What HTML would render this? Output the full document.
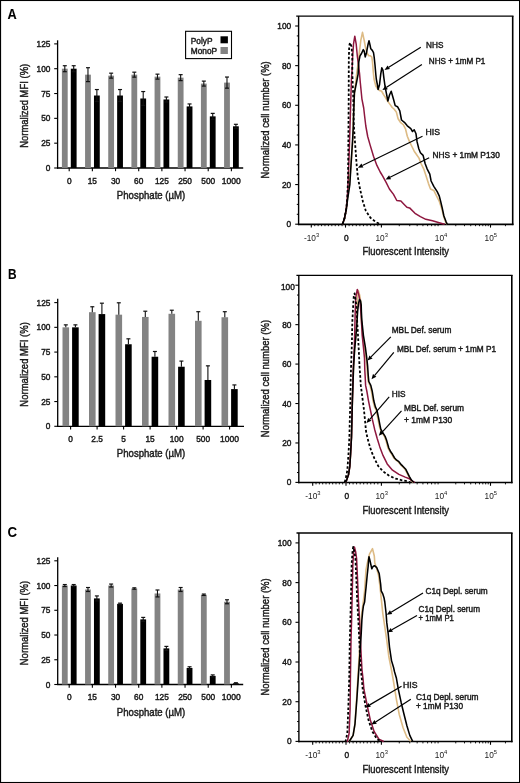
<!DOCTYPE html>
<html><head><meta charset="utf-8"><style>
html,body{margin:0;padding:0;background:#fff;}
svg{display:block;will-change:transform;}
text{font-family:"Liberation Sans", sans-serif;}
</style></head><body>
<svg width="520" height="783" viewBox="0 0 520 783" font-family='"Liberation Sans", sans-serif'>
<rect x="0.00" y="0.00" width="520.00" height="783.00" fill="#ffffff"/>
<rect x="0.55" y="0.5" width="519.0" height="782.0" fill="none" stroke="#000" stroke-width="1.1"/>
<text x="7.60" y="18.70" font-size="14.2" text-anchor="start" fill="#000" stroke="#000" stroke-width="0.1" font-weight="bold" textLength="9.2" lengthAdjust="spacingAndGlyphs" >A</text>
<text x="8.00" y="279.40" font-size="14" text-anchor="start" fill="#000" stroke="#000" stroke-width="0.1" font-weight="bold" textLength="8.6" lengthAdjust="spacingAndGlyphs" >B</text>
<text x="7.50" y="537.20" font-size="14.8" text-anchor="start" fill="#000" stroke="#000" stroke-width="0.0" font-weight="bold" textLength="9.6" lengthAdjust="spacingAndGlyphs" >C</text>
<line x1="57.60" y1="40.30" x2="57.60" y2="168.60" stroke="#000" stroke-width="1.3"/>
<line x1="57.00" y1="168.00" x2="243.20" y2="168.00" stroke="#000" stroke-width="1.3"/>
<line x1="54.20" y1="168.00" x2="57.60" y2="168.00" stroke="#000" stroke-width="1.1"/>
<text x="50.40" y="171.00" font-size="8.3" text-anchor="end" fill="#1a1a1a" stroke="#1a1a1a" stroke-width="0.42" >0</text>
<line x1="54.20" y1="143.18" x2="57.60" y2="143.18" stroke="#000" stroke-width="1.1"/>
<text x="50.40" y="146.18" font-size="8.3" text-anchor="end" fill="#1a1a1a" stroke="#1a1a1a" stroke-width="0.42" >25</text>
<line x1="54.20" y1="118.35" x2="57.60" y2="118.35" stroke="#000" stroke-width="1.1"/>
<text x="50.40" y="121.35" font-size="8.3" text-anchor="end" fill="#1a1a1a" stroke="#1a1a1a" stroke-width="0.42" >50</text>
<line x1="54.20" y1="93.53" x2="57.60" y2="93.53" stroke="#000" stroke-width="1.1"/>
<text x="50.40" y="96.53" font-size="8.3" text-anchor="end" fill="#1a1a1a" stroke="#1a1a1a" stroke-width="0.42" >75</text>
<line x1="54.20" y1="68.70" x2="57.60" y2="68.70" stroke="#000" stroke-width="1.1"/>
<text x="50.40" y="71.70" font-size="8.3" text-anchor="end" fill="#1a1a1a" stroke="#1a1a1a" stroke-width="0.42" >100</text>
<line x1="54.20" y1="43.88" x2="57.60" y2="43.88" stroke="#000" stroke-width="1.1"/>
<text x="50.40" y="46.88" font-size="8.3" text-anchor="end" fill="#1a1a1a" stroke="#1a1a1a" stroke-width="0.42" >125</text>
<rect x="61.90" y="68.70" width="5.80" height="99.30" fill="#838383"/>
<rect x="70.80" y="68.70" width="5.80" height="99.30" fill="#000000"/>
<line x1="64.80" y1="65.72" x2="64.80" y2="71.68" stroke="#111" stroke-width="1.1"/>
<line x1="62.80" y1="65.72" x2="66.80" y2="65.72" stroke="#111" stroke-width="1.2"/>
<line x1="62.80" y1="71.68" x2="66.80" y2="71.68" stroke="#111" stroke-width="1.2"/>
<line x1="73.70" y1="65.72" x2="73.70" y2="71.68" stroke="#111" stroke-width="1.1"/>
<line x1="71.70" y1="65.72" x2="75.70" y2="65.72" stroke="#111" stroke-width="1.2"/>
<line x1="71.70" y1="71.68" x2="75.70" y2="71.68" stroke="#111" stroke-width="1.2"/>
<line x1="69.20" y1="168.00" x2="69.20" y2="171.20" stroke="#000" stroke-width="1.1"/>
<text x="69.20" y="183.50" font-size="8.3" text-anchor="middle" fill="#1a1a1a" stroke="#1a1a1a" stroke-width="0.42" >0</text>
<rect x="85.07" y="74.66" width="5.80" height="93.34" fill="#838383"/>
<rect x="93.97" y="95.51" width="5.80" height="72.49" fill="#000000"/>
<line x1="87.97" y1="67.71" x2="87.97" y2="81.61" stroke="#111" stroke-width="1.1"/>
<line x1="85.97" y1="67.71" x2="89.97" y2="67.71" stroke="#111" stroke-width="1.2"/>
<line x1="85.97" y1="81.61" x2="89.97" y2="81.61" stroke="#111" stroke-width="1.2"/>
<line x1="96.87" y1="89.55" x2="96.87" y2="101.47" stroke="#111" stroke-width="1.1"/>
<line x1="94.87" y1="89.55" x2="98.87" y2="89.55" stroke="#111" stroke-width="1.2"/>
<line x1="94.87" y1="101.47" x2="98.87" y2="101.47" stroke="#111" stroke-width="1.2"/>
<line x1="92.37" y1="168.00" x2="92.37" y2="171.20" stroke="#000" stroke-width="1.1"/>
<text x="92.37" y="183.50" font-size="8.3" text-anchor="middle" fill="#1a1a1a" stroke="#1a1a1a" stroke-width="0.42" >15</text>
<rect x="108.24" y="75.65" width="5.80" height="92.35" fill="#838383"/>
<rect x="117.14" y="95.51" width="5.80" height="72.49" fill="#000000"/>
<line x1="111.14" y1="73.17" x2="111.14" y2="78.13" stroke="#111" stroke-width="1.1"/>
<line x1="109.14" y1="73.17" x2="113.14" y2="73.17" stroke="#111" stroke-width="1.2"/>
<line x1="109.14" y1="78.13" x2="113.14" y2="78.13" stroke="#111" stroke-width="1.2"/>
<line x1="120.04" y1="89.55" x2="120.04" y2="101.47" stroke="#111" stroke-width="1.1"/>
<line x1="118.04" y1="89.55" x2="122.04" y2="89.55" stroke="#111" stroke-width="1.2"/>
<line x1="118.04" y1="101.47" x2="122.04" y2="101.47" stroke="#111" stroke-width="1.2"/>
<line x1="115.54" y1="168.00" x2="115.54" y2="171.20" stroke="#000" stroke-width="1.1"/>
<text x="115.54" y="183.50" font-size="8.3" text-anchor="middle" fill="#1a1a1a" stroke="#1a1a1a" stroke-width="0.42" >30</text>
<rect x="131.41" y="74.66" width="5.80" height="93.34" fill="#838383"/>
<rect x="140.31" y="98.49" width="5.80" height="69.51" fill="#000000"/>
<line x1="134.31" y1="72.18" x2="134.31" y2="77.14" stroke="#111" stroke-width="1.1"/>
<line x1="132.31" y1="72.18" x2="136.31" y2="72.18" stroke="#111" stroke-width="1.2"/>
<line x1="132.31" y1="77.14" x2="136.31" y2="77.14" stroke="#111" stroke-width="1.2"/>
<line x1="143.21" y1="91.54" x2="143.21" y2="105.44" stroke="#111" stroke-width="1.1"/>
<line x1="141.21" y1="91.54" x2="145.21" y2="91.54" stroke="#111" stroke-width="1.2"/>
<line x1="141.21" y1="105.44" x2="145.21" y2="105.44" stroke="#111" stroke-width="1.2"/>
<line x1="138.71" y1="168.00" x2="138.71" y2="171.20" stroke="#000" stroke-width="1.1"/>
<text x="138.71" y="183.50" font-size="8.3" text-anchor="middle" fill="#1a1a1a" stroke="#1a1a1a" stroke-width="0.42" >60</text>
<rect x="154.58" y="76.64" width="5.80" height="91.36" fill="#838383"/>
<rect x="163.48" y="99.48" width="5.80" height="68.52" fill="#000000"/>
<line x1="157.48" y1="74.16" x2="157.48" y2="79.13" stroke="#111" stroke-width="1.1"/>
<line x1="155.48" y1="74.16" x2="159.48" y2="74.16" stroke="#111" stroke-width="1.2"/>
<line x1="155.48" y1="79.13" x2="159.48" y2="79.13" stroke="#111" stroke-width="1.2"/>
<line x1="166.38" y1="97.00" x2="166.38" y2="101.97" stroke="#111" stroke-width="1.1"/>
<line x1="164.38" y1="97.00" x2="168.38" y2="97.00" stroke="#111" stroke-width="1.2"/>
<line x1="164.38" y1="101.97" x2="168.38" y2="101.97" stroke="#111" stroke-width="1.2"/>
<line x1="161.88" y1="168.00" x2="161.88" y2="171.20" stroke="#000" stroke-width="1.1"/>
<text x="161.88" y="183.50" font-size="8.3" text-anchor="middle" fill="#1a1a1a" stroke="#1a1a1a" stroke-width="0.42" >125</text>
<rect x="177.75" y="77.64" width="5.80" height="90.36" fill="#838383"/>
<rect x="186.65" y="106.43" width="5.80" height="61.57" fill="#000000"/>
<line x1="180.65" y1="74.66" x2="180.65" y2="80.62" stroke="#111" stroke-width="1.1"/>
<line x1="178.65" y1="74.66" x2="182.65" y2="74.66" stroke="#111" stroke-width="1.2"/>
<line x1="178.65" y1="80.62" x2="182.65" y2="80.62" stroke="#111" stroke-width="1.2"/>
<line x1="189.55" y1="103.95" x2="189.55" y2="108.92" stroke="#111" stroke-width="1.1"/>
<line x1="187.55" y1="103.95" x2="191.55" y2="103.95" stroke="#111" stroke-width="1.2"/>
<line x1="187.55" y1="108.92" x2="191.55" y2="108.92" stroke="#111" stroke-width="1.2"/>
<line x1="185.05" y1="168.00" x2="185.05" y2="171.20" stroke="#000" stroke-width="1.1"/>
<text x="185.05" y="183.50" font-size="8.3" text-anchor="middle" fill="#1a1a1a" stroke="#1a1a1a" stroke-width="0.42" >250</text>
<rect x="200.92" y="83.59" width="5.80" height="84.41" fill="#838383"/>
<rect x="209.82" y="116.36" width="5.80" height="51.64" fill="#000000"/>
<line x1="203.82" y1="81.11" x2="203.82" y2="86.08" stroke="#111" stroke-width="1.1"/>
<line x1="201.82" y1="81.11" x2="205.82" y2="81.11" stroke="#111" stroke-width="1.2"/>
<line x1="201.82" y1="86.08" x2="205.82" y2="86.08" stroke="#111" stroke-width="1.2"/>
<line x1="212.72" y1="113.38" x2="212.72" y2="119.34" stroke="#111" stroke-width="1.1"/>
<line x1="210.72" y1="113.38" x2="214.72" y2="113.38" stroke="#111" stroke-width="1.2"/>
<line x1="210.72" y1="119.34" x2="214.72" y2="119.34" stroke="#111" stroke-width="1.2"/>
<line x1="208.22" y1="168.00" x2="208.22" y2="171.20" stroke="#000" stroke-width="1.1"/>
<text x="208.22" y="183.50" font-size="8.3" text-anchor="middle" fill="#1a1a1a" stroke="#1a1a1a" stroke-width="0.42" >500</text>
<rect x="224.09" y="82.60" width="5.80" height="85.40" fill="#838383"/>
<rect x="232.99" y="126.29" width="5.80" height="41.71" fill="#000000"/>
<line x1="226.99" y1="77.04" x2="226.99" y2="88.16" stroke="#111" stroke-width="1.1"/>
<line x1="224.99" y1="77.04" x2="228.99" y2="77.04" stroke="#111" stroke-width="1.2"/>
<line x1="224.99" y1="88.16" x2="228.99" y2="88.16" stroke="#111" stroke-width="1.2"/>
<line x1="235.89" y1="124.31" x2="235.89" y2="128.28" stroke="#111" stroke-width="1.1"/>
<line x1="233.89" y1="124.31" x2="237.89" y2="124.31" stroke="#111" stroke-width="1.2"/>
<line x1="233.89" y1="128.28" x2="237.89" y2="128.28" stroke="#111" stroke-width="1.2"/>
<line x1="231.39" y1="168.00" x2="231.39" y2="171.20" stroke="#000" stroke-width="1.1"/>
<text x="231.39" y="183.50" font-size="8.3" text-anchor="middle" fill="#1a1a1a" stroke="#1a1a1a" stroke-width="0.42" textLength="19.0" lengthAdjust="spacingAndGlyphs" >1000</text>
<text x="27.70" y="105.80" font-size="10.2" text-anchor="middle" fill="#1a1a1a" stroke="#1a1a1a" stroke-width="0.42" textLength="84.0" lengthAdjust="spacingAndGlyphs" transform="rotate(-90 27.70 105.80)" >Normalized MFI (%)</text>
<text x="151.00" y="198.80" font-size="10.2" text-anchor="middle" fill="#1a1a1a" stroke="#1a1a1a" stroke-width="0.42" textLength="68.3" lengthAdjust="spacingAndGlyphs" >Phosphate (µM)</text>
<rect x="185.6" y="31.3" width="45.9" height="27.3" fill="#fff" stroke="#000" stroke-width="1.1"/>
<text x="190.80" y="43.80" font-size="8.3" text-anchor="start" fill="#1a1a1a" stroke="#1a1a1a" stroke-width="0.42" >PolyP</text>
<text x="190.80" y="53.60" font-size="8.3" text-anchor="start" fill="#1a1a1a" stroke="#1a1a1a" stroke-width="0.42" >MonoP</text>
<rect x="220.50" y="36.30" width="7.40" height="7.00" fill="#000000"/>
<rect x="220.50" y="47.00" width="7.40" height="7.00" fill="#838383"/>
<line x1="57.70" y1="298.80" x2="57.70" y2="426.90" stroke="#000" stroke-width="1.3"/>
<line x1="57.10" y1="426.30" x2="244.00" y2="426.30" stroke="#000" stroke-width="1.3"/>
<line x1="54.30" y1="426.30" x2="57.70" y2="426.30" stroke="#000" stroke-width="1.1"/>
<text x="50.40" y="429.30" font-size="8.3" text-anchor="end" fill="#1a1a1a" stroke="#1a1a1a" stroke-width="0.42" >0</text>
<line x1="54.30" y1="401.56" x2="57.70" y2="401.56" stroke="#000" stroke-width="1.1"/>
<text x="50.40" y="404.56" font-size="8.3" text-anchor="end" fill="#1a1a1a" stroke="#1a1a1a" stroke-width="0.42" >25</text>
<line x1="54.30" y1="376.82" x2="57.70" y2="376.82" stroke="#000" stroke-width="1.1"/>
<text x="50.40" y="379.82" font-size="8.3" text-anchor="end" fill="#1a1a1a" stroke="#1a1a1a" stroke-width="0.42" >50</text>
<line x1="54.30" y1="352.08" x2="57.70" y2="352.08" stroke="#000" stroke-width="1.1"/>
<text x="50.40" y="355.08" font-size="8.3" text-anchor="end" fill="#1a1a1a" stroke="#1a1a1a" stroke-width="0.42" >75</text>
<line x1="54.30" y1="327.34" x2="57.70" y2="327.34" stroke="#000" stroke-width="1.1"/>
<text x="50.40" y="330.34" font-size="8.3" text-anchor="end" fill="#1a1a1a" stroke="#1a1a1a" stroke-width="0.42" >100</text>
<line x1="54.30" y1="302.60" x2="57.70" y2="302.60" stroke="#000" stroke-width="1.1"/>
<text x="50.40" y="305.60" font-size="8.3" text-anchor="end" fill="#1a1a1a" stroke="#1a1a1a" stroke-width="0.42" >125</text>
<rect x="62.50" y="327.34" width="6.60" height="98.96" fill="#838383"/>
<rect x="72.10" y="327.34" width="6.60" height="98.96" fill="#000000"/>
<line x1="65.80" y1="324.87" x2="65.80" y2="327.34" stroke="#111" stroke-width="1.1"/>
<line x1="63.80" y1="324.87" x2="67.80" y2="324.87" stroke="#111" stroke-width="1.2"/>
<line x1="75.40" y1="324.87" x2="75.40" y2="327.34" stroke="#111" stroke-width="1.1"/>
<line x1="73.40" y1="324.87" x2="77.40" y2="324.87" stroke="#111" stroke-width="1.2"/>
<line x1="70.60" y1="426.30" x2="70.60" y2="429.50" stroke="#000" stroke-width="1.1"/>
<text x="70.60" y="441.80" font-size="8.3" text-anchor="middle" fill="#1a1a1a" stroke="#1a1a1a" stroke-width="0.42" >0</text>
<rect x="89.00" y="312.20" width="6.60" height="114.10" fill="#838383"/>
<rect x="98.60" y="314.08" width="6.60" height="112.22" fill="#000000"/>
<line x1="92.30" y1="306.76" x2="92.30" y2="312.20" stroke="#111" stroke-width="1.1"/>
<line x1="90.30" y1="306.76" x2="94.30" y2="306.76" stroke="#111" stroke-width="1.2"/>
<line x1="101.90" y1="303.19" x2="101.90" y2="314.08" stroke="#111" stroke-width="1.1"/>
<line x1="99.90" y1="303.19" x2="103.90" y2="303.19" stroke="#111" stroke-width="1.2"/>
<line x1="97.10" y1="426.30" x2="97.10" y2="429.50" stroke="#000" stroke-width="1.1"/>
<text x="97.10" y="441.80" font-size="8.3" text-anchor="middle" fill="#1a1a1a" stroke="#1a1a1a" stroke-width="0.42" >2.5</text>
<rect x="115.50" y="314.67" width="6.60" height="111.63" fill="#838383"/>
<rect x="125.10" y="344.26" width="6.60" height="82.04" fill="#000000"/>
<line x1="118.80" y1="302.80" x2="118.80" y2="314.67" stroke="#111" stroke-width="1.1"/>
<line x1="116.80" y1="302.80" x2="120.80" y2="302.80" stroke="#111" stroke-width="1.2"/>
<line x1="128.40" y1="338.82" x2="128.40" y2="344.26" stroke="#111" stroke-width="1.1"/>
<line x1="126.40" y1="338.82" x2="130.40" y2="338.82" stroke="#111" stroke-width="1.2"/>
<line x1="123.60" y1="426.30" x2="123.60" y2="429.50" stroke="#000" stroke-width="1.1"/>
<text x="123.60" y="441.80" font-size="8.3" text-anchor="middle" fill="#1a1a1a" stroke="#1a1a1a" stroke-width="0.42" >5</text>
<rect x="142.00" y="316.95" width="6.60" height="109.35" fill="#838383"/>
<rect x="151.60" y="356.73" width="6.60" height="69.57" fill="#000000"/>
<line x1="145.30" y1="311.21" x2="145.30" y2="316.95" stroke="#111" stroke-width="1.1"/>
<line x1="143.30" y1="311.21" x2="147.30" y2="311.21" stroke="#111" stroke-width="1.2"/>
<line x1="154.90" y1="351.49" x2="154.90" y2="356.73" stroke="#111" stroke-width="1.1"/>
<line x1="152.90" y1="351.49" x2="156.90" y2="351.49" stroke="#111" stroke-width="1.2"/>
<line x1="150.10" y1="426.30" x2="150.10" y2="429.50" stroke="#000" stroke-width="1.1"/>
<text x="150.10" y="441.80" font-size="8.3" text-anchor="middle" fill="#1a1a1a" stroke="#1a1a1a" stroke-width="0.42" >15</text>
<rect x="168.50" y="313.78" width="6.60" height="112.52" fill="#838383"/>
<rect x="178.10" y="366.73" width="6.60" height="59.57" fill="#000000"/>
<line x1="171.80" y1="310.22" x2="171.80" y2="313.78" stroke="#111" stroke-width="1.1"/>
<line x1="169.80" y1="310.22" x2="173.80" y2="310.22" stroke="#111" stroke-width="1.2"/>
<line x1="181.40" y1="361.09" x2="181.40" y2="366.73" stroke="#111" stroke-width="1.1"/>
<line x1="179.40" y1="361.09" x2="183.40" y2="361.09" stroke="#111" stroke-width="1.2"/>
<line x1="176.60" y1="426.30" x2="176.60" y2="429.50" stroke="#000" stroke-width="1.1"/>
<text x="176.60" y="441.80" font-size="8.3" text-anchor="middle" fill="#1a1a1a" stroke="#1a1a1a" stroke-width="0.42" >100</text>
<rect x="195.00" y="320.81" width="6.60" height="105.49" fill="#838383"/>
<rect x="204.60" y="379.99" width="6.60" height="46.31" fill="#000000"/>
<line x1="198.30" y1="311.70" x2="198.30" y2="320.81" stroke="#111" stroke-width="1.1"/>
<line x1="196.30" y1="311.70" x2="200.30" y2="311.70" stroke="#111" stroke-width="1.2"/>
<line x1="207.90" y1="365.84" x2="207.90" y2="379.99" stroke="#111" stroke-width="1.1"/>
<line x1="205.90" y1="365.84" x2="209.90" y2="365.84" stroke="#111" stroke-width="1.2"/>
<line x1="203.10" y1="426.30" x2="203.10" y2="429.50" stroke="#000" stroke-width="1.1"/>
<text x="203.10" y="441.80" font-size="8.3" text-anchor="middle" fill="#1a1a1a" stroke="#1a1a1a" stroke-width="0.42" >500</text>
<rect x="221.50" y="317.25" width="6.60" height="109.05" fill="#838383"/>
<rect x="231.10" y="389.09" width="6.60" height="37.21" fill="#000000"/>
<line x1="224.80" y1="311.70" x2="224.80" y2="317.25" stroke="#111" stroke-width="1.1"/>
<line x1="222.80" y1="311.70" x2="226.80" y2="311.70" stroke="#111" stroke-width="1.2"/>
<line x1="234.40" y1="384.93" x2="234.40" y2="389.09" stroke="#111" stroke-width="1.1"/>
<line x1="232.40" y1="384.93" x2="236.40" y2="384.93" stroke="#111" stroke-width="1.2"/>
<line x1="229.60" y1="426.30" x2="229.60" y2="429.50" stroke="#000" stroke-width="1.1"/>
<text x="229.60" y="441.80" font-size="8.3" text-anchor="middle" fill="#1a1a1a" stroke="#1a1a1a" stroke-width="0.42" textLength="19.0" lengthAdjust="spacingAndGlyphs" >1000</text>
<text x="27.70" y="364.40" font-size="10.2" text-anchor="middle" fill="#1a1a1a" stroke="#1a1a1a" stroke-width="0.42" textLength="84.5" lengthAdjust="spacingAndGlyphs" transform="rotate(-90 27.70 364.40)" >Normalized MFI (%)</text>
<text x="151.00" y="457.30" font-size="10.2" text-anchor="middle" fill="#1a1a1a" stroke="#1a1a1a" stroke-width="0.42" textLength="68.3" lengthAdjust="spacingAndGlyphs" >Phosphate (µM)</text>
<line x1="57.70" y1="557.30" x2="57.70" y2="685.10" stroke="#000" stroke-width="1.3"/>
<line x1="57.10" y1="684.50" x2="243.20" y2="684.50" stroke="#000" stroke-width="1.3"/>
<line x1="54.30" y1="684.50" x2="57.70" y2="684.50" stroke="#000" stroke-width="1.1"/>
<text x="50.40" y="687.50" font-size="8.3" text-anchor="end" fill="#1a1a1a" stroke="#1a1a1a" stroke-width="0.42" >0</text>
<line x1="54.30" y1="659.76" x2="57.70" y2="659.76" stroke="#000" stroke-width="1.1"/>
<text x="50.40" y="662.76" font-size="8.3" text-anchor="end" fill="#1a1a1a" stroke="#1a1a1a" stroke-width="0.42" >25</text>
<line x1="54.30" y1="635.02" x2="57.70" y2="635.02" stroke="#000" stroke-width="1.1"/>
<text x="50.40" y="638.02" font-size="8.3" text-anchor="end" fill="#1a1a1a" stroke="#1a1a1a" stroke-width="0.42" >50</text>
<line x1="54.30" y1="610.28" x2="57.70" y2="610.28" stroke="#000" stroke-width="1.1"/>
<text x="50.40" y="613.28" font-size="8.3" text-anchor="end" fill="#1a1a1a" stroke="#1a1a1a" stroke-width="0.42" >75</text>
<line x1="54.30" y1="585.54" x2="57.70" y2="585.54" stroke="#000" stroke-width="1.1"/>
<text x="50.40" y="588.54" font-size="8.3" text-anchor="end" fill="#1a1a1a" stroke="#1a1a1a" stroke-width="0.42" >100</text>
<line x1="54.30" y1="560.80" x2="57.70" y2="560.80" stroke="#000" stroke-width="1.1"/>
<text x="50.40" y="563.80" font-size="8.3" text-anchor="end" fill="#1a1a1a" stroke="#1a1a1a" stroke-width="0.42" >125</text>
<rect x="61.90" y="585.54" width="5.80" height="98.96" fill="#838383"/>
<rect x="70.80" y="585.54" width="5.80" height="98.96" fill="#000000"/>
<line x1="64.80" y1="584.55" x2="64.80" y2="586.53" stroke="#111" stroke-width="1.1"/>
<line x1="62.80" y1="584.55" x2="66.80" y2="584.55" stroke="#111" stroke-width="1.2"/>
<line x1="62.80" y1="586.53" x2="66.80" y2="586.53" stroke="#111" stroke-width="1.2"/>
<line x1="73.70" y1="584.55" x2="73.70" y2="586.53" stroke="#111" stroke-width="1.1"/>
<line x1="71.70" y1="584.55" x2="75.70" y2="584.55" stroke="#111" stroke-width="1.2"/>
<line x1="71.70" y1="586.53" x2="75.70" y2="586.53" stroke="#111" stroke-width="1.2"/>
<line x1="69.20" y1="684.50" x2="69.20" y2="687.70" stroke="#000" stroke-width="1.1"/>
<text x="69.20" y="700.00" font-size="8.3" text-anchor="middle" fill="#1a1a1a" stroke="#1a1a1a" stroke-width="0.42" >0</text>
<rect x="85.07" y="589.50" width="5.80" height="95.00" fill="#838383"/>
<rect x="93.97" y="598.40" width="5.80" height="86.10" fill="#000000"/>
<line x1="87.97" y1="587.52" x2="87.97" y2="591.48" stroke="#111" stroke-width="1.1"/>
<line x1="85.97" y1="587.52" x2="89.97" y2="587.52" stroke="#111" stroke-width="1.2"/>
<line x1="85.97" y1="591.48" x2="89.97" y2="591.48" stroke="#111" stroke-width="1.2"/>
<line x1="96.87" y1="595.93" x2="96.87" y2="600.88" stroke="#111" stroke-width="1.1"/>
<line x1="94.87" y1="595.93" x2="98.87" y2="595.93" stroke="#111" stroke-width="1.2"/>
<line x1="94.87" y1="600.88" x2="98.87" y2="600.88" stroke="#111" stroke-width="1.2"/>
<line x1="92.37" y1="684.50" x2="92.37" y2="687.70" stroke="#000" stroke-width="1.1"/>
<text x="92.37" y="700.00" font-size="8.3" text-anchor="middle" fill="#1a1a1a" stroke="#1a1a1a" stroke-width="0.42" >15</text>
<rect x="108.24" y="585.54" width="5.80" height="98.96" fill="#838383"/>
<rect x="117.14" y="603.85" width="5.80" height="80.65" fill="#000000"/>
<line x1="111.14" y1="584.06" x2="111.14" y2="587.02" stroke="#111" stroke-width="1.1"/>
<line x1="109.14" y1="584.06" x2="113.14" y2="584.06" stroke="#111" stroke-width="1.2"/>
<line x1="109.14" y1="587.02" x2="113.14" y2="587.02" stroke="#111" stroke-width="1.2"/>
<line x1="120.04" y1="603.15" x2="120.04" y2="604.54" stroke="#111" stroke-width="1.1"/>
<line x1="118.04" y1="603.15" x2="122.04" y2="603.15" stroke="#111" stroke-width="1.2"/>
<line x1="118.04" y1="604.54" x2="122.04" y2="604.54" stroke="#111" stroke-width="1.2"/>
<line x1="115.54" y1="684.50" x2="115.54" y2="687.70" stroke="#000" stroke-width="1.1"/>
<text x="115.54" y="700.00" font-size="8.3" text-anchor="middle" fill="#1a1a1a" stroke="#1a1a1a" stroke-width="0.42" >30</text>
<rect x="131.41" y="588.51" width="5.80" height="95.99" fill="#838383"/>
<rect x="140.31" y="619.38" width="5.80" height="65.12" fill="#000000"/>
<line x1="134.31" y1="587.82" x2="134.31" y2="589.20" stroke="#111" stroke-width="1.1"/>
<line x1="132.31" y1="587.82" x2="136.31" y2="587.82" stroke="#111" stroke-width="1.2"/>
<line x1="132.31" y1="589.20" x2="136.31" y2="589.20" stroke="#111" stroke-width="1.2"/>
<line x1="143.21" y1="617.41" x2="143.21" y2="621.36" stroke="#111" stroke-width="1.1"/>
<line x1="141.21" y1="617.41" x2="145.21" y2="617.41" stroke="#111" stroke-width="1.2"/>
<line x1="141.21" y1="621.36" x2="145.21" y2="621.36" stroke="#111" stroke-width="1.2"/>
<line x1="138.71" y1="684.50" x2="138.71" y2="687.70" stroke="#000" stroke-width="1.1"/>
<text x="138.71" y="700.00" font-size="8.3" text-anchor="middle" fill="#1a1a1a" stroke="#1a1a1a" stroke-width="0.42" >60</text>
<rect x="154.58" y="593.46" width="5.80" height="91.04" fill="#838383"/>
<rect x="163.48" y="648.38" width="5.80" height="36.12" fill="#000000"/>
<line x1="157.48" y1="589.99" x2="157.48" y2="596.92" stroke="#111" stroke-width="1.1"/>
<line x1="155.48" y1="589.99" x2="159.48" y2="589.99" stroke="#111" stroke-width="1.2"/>
<line x1="155.48" y1="596.92" x2="159.48" y2="596.92" stroke="#111" stroke-width="1.2"/>
<line x1="166.38" y1="646.40" x2="166.38" y2="650.36" stroke="#111" stroke-width="1.1"/>
<line x1="164.38" y1="646.40" x2="168.38" y2="646.40" stroke="#111" stroke-width="1.2"/>
<line x1="164.38" y1="650.36" x2="168.38" y2="650.36" stroke="#111" stroke-width="1.2"/>
<line x1="161.88" y1="684.50" x2="161.88" y2="687.70" stroke="#000" stroke-width="1.1"/>
<text x="161.88" y="700.00" font-size="8.3" text-anchor="middle" fill="#1a1a1a" stroke="#1a1a1a" stroke-width="0.42" >125</text>
<rect x="177.75" y="589.50" width="5.80" height="95.00" fill="#838383"/>
<rect x="186.65" y="667.97" width="5.80" height="16.53" fill="#000000"/>
<line x1="180.65" y1="587.52" x2="180.65" y2="591.48" stroke="#111" stroke-width="1.1"/>
<line x1="178.65" y1="587.52" x2="182.65" y2="587.52" stroke="#111" stroke-width="1.2"/>
<line x1="178.65" y1="591.48" x2="182.65" y2="591.48" stroke="#111" stroke-width="1.2"/>
<line x1="189.55" y1="666.79" x2="189.55" y2="669.16" stroke="#111" stroke-width="1.1"/>
<line x1="187.55" y1="666.79" x2="191.55" y2="666.79" stroke="#111" stroke-width="1.2"/>
<line x1="187.55" y1="669.16" x2="191.55" y2="669.16" stroke="#111" stroke-width="1.2"/>
<line x1="185.05" y1="684.50" x2="185.05" y2="687.70" stroke="#000" stroke-width="1.1"/>
<text x="185.05" y="700.00" font-size="8.3" text-anchor="middle" fill="#1a1a1a" stroke="#1a1a1a" stroke-width="0.42" >250</text>
<rect x="200.92" y="594.74" width="5.80" height="89.76" fill="#838383"/>
<rect x="209.82" y="675.89" width="5.80" height="8.61" fill="#000000"/>
<line x1="203.82" y1="594.05" x2="203.82" y2="595.44" stroke="#111" stroke-width="1.1"/>
<line x1="201.82" y1="594.05" x2="205.82" y2="594.05" stroke="#111" stroke-width="1.2"/>
<line x1="201.82" y1="595.44" x2="205.82" y2="595.44" stroke="#111" stroke-width="1.2"/>
<line x1="212.72" y1="674.90" x2="212.72" y2="676.88" stroke="#111" stroke-width="1.1"/>
<line x1="210.72" y1="674.90" x2="214.72" y2="674.90" stroke="#111" stroke-width="1.2"/>
<line x1="210.72" y1="676.88" x2="214.72" y2="676.88" stroke="#111" stroke-width="1.2"/>
<line x1="208.22" y1="684.50" x2="208.22" y2="687.70" stroke="#000" stroke-width="1.1"/>
<text x="208.22" y="700.00" font-size="8.3" text-anchor="middle" fill="#1a1a1a" stroke="#1a1a1a" stroke-width="0.42" >500</text>
<rect x="224.09" y="601.77" width="5.80" height="82.73" fill="#838383"/>
<rect x="232.99" y="683.31" width="5.80" height="1.19" fill="#000000"/>
<line x1="226.99" y1="599.79" x2="226.99" y2="603.75" stroke="#111" stroke-width="1.1"/>
<line x1="224.99" y1="599.79" x2="228.99" y2="599.79" stroke="#111" stroke-width="1.2"/>
<line x1="224.99" y1="603.75" x2="228.99" y2="603.75" stroke="#111" stroke-width="1.2"/>
<line x1="235.89" y1="682.72" x2="235.89" y2="683.91" stroke="#111" stroke-width="1.1"/>
<line x1="233.89" y1="682.72" x2="237.89" y2="682.72" stroke="#111" stroke-width="1.2"/>
<line x1="233.89" y1="683.91" x2="237.89" y2="683.91" stroke="#111" stroke-width="1.2"/>
<line x1="231.39" y1="684.50" x2="231.39" y2="687.70" stroke="#000" stroke-width="1.1"/>
<text x="231.39" y="700.00" font-size="8.3" text-anchor="middle" fill="#1a1a1a" stroke="#1a1a1a" stroke-width="0.42" textLength="19.0" lengthAdjust="spacingAndGlyphs" >1000</text>
<text x="27.70" y="623.00" font-size="10.2" text-anchor="middle" fill="#1a1a1a" stroke="#1a1a1a" stroke-width="0.42" textLength="84.5" lengthAdjust="spacingAndGlyphs" transform="rotate(-90 27.70 623.00)" >Normalized MFI (%)</text>
<text x="151.00" y="715.80" font-size="10.2" text-anchor="middle" fill="#1a1a1a" stroke="#1a1a1a" stroke-width="0.42" textLength="68.3" lengthAdjust="spacingAndGlyphs" >Phosphate (µM)</text>
<line x1="296.20" y1="16.10" x2="513.50" y2="16.10" stroke="#000" stroke-width="1.3"/>
<line x1="298.60" y1="16.10" x2="298.60" y2="225.10" stroke="#000" stroke-width="1.4"/>
<line x1="512.70" y1="16.10" x2="512.70" y2="225.10" stroke="#000" stroke-width="1.6"/>
<line x1="297.90" y1="224.30" x2="513.50" y2="224.30" stroke="#000" stroke-width="1.7"/>
<line x1="295.20" y1="224.20" x2="298.60" y2="224.20" stroke="#000" stroke-width="1.1"/>
<text x="291.20" y="227.20" font-size="8.3" text-anchor="end" fill="#1a1a1a" stroke="#1a1a1a" stroke-width="0.42" >0</text>
<line x1="296.80" y1="214.29" x2="298.60" y2="214.29" stroke="#000" stroke-width="1.0"/>
<line x1="296.80" y1="204.38" x2="298.60" y2="204.38" stroke="#000" stroke-width="1.0"/>
<line x1="296.80" y1="194.47" x2="298.60" y2="194.47" stroke="#000" stroke-width="1.0"/>
<line x1="295.20" y1="184.56" x2="298.60" y2="184.56" stroke="#000" stroke-width="1.1"/>
<text x="291.20" y="187.56" font-size="8.3" text-anchor="end" fill="#1a1a1a" stroke="#1a1a1a" stroke-width="0.42" >20</text>
<line x1="296.80" y1="174.65" x2="298.60" y2="174.65" stroke="#000" stroke-width="1.0"/>
<line x1="296.80" y1="164.74" x2="298.60" y2="164.74" stroke="#000" stroke-width="1.0"/>
<line x1="296.80" y1="154.83" x2="298.60" y2="154.83" stroke="#000" stroke-width="1.0"/>
<line x1="295.20" y1="144.92" x2="298.60" y2="144.92" stroke="#000" stroke-width="1.1"/>
<text x="291.20" y="147.92" font-size="8.3" text-anchor="end" fill="#1a1a1a" stroke="#1a1a1a" stroke-width="0.42" >40</text>
<line x1="296.80" y1="135.01" x2="298.60" y2="135.01" stroke="#000" stroke-width="1.0"/>
<line x1="296.80" y1="125.10" x2="298.60" y2="125.10" stroke="#000" stroke-width="1.0"/>
<line x1="296.80" y1="115.19" x2="298.60" y2="115.19" stroke="#000" stroke-width="1.0"/>
<line x1="295.20" y1="105.28" x2="298.60" y2="105.28" stroke="#000" stroke-width="1.1"/>
<text x="291.20" y="108.28" font-size="8.3" text-anchor="end" fill="#1a1a1a" stroke="#1a1a1a" stroke-width="0.42" >60</text>
<line x1="296.80" y1="95.37" x2="298.60" y2="95.37" stroke="#000" stroke-width="1.0"/>
<line x1="296.80" y1="85.46" x2="298.60" y2="85.46" stroke="#000" stroke-width="1.0"/>
<line x1="296.80" y1="75.55" x2="298.60" y2="75.55" stroke="#000" stroke-width="1.0"/>
<line x1="295.20" y1="65.64" x2="298.60" y2="65.64" stroke="#000" stroke-width="1.1"/>
<text x="291.20" y="68.64" font-size="8.3" text-anchor="end" fill="#1a1a1a" stroke="#1a1a1a" stroke-width="0.42" >80</text>
<line x1="296.80" y1="55.73" x2="298.60" y2="55.73" stroke="#000" stroke-width="1.0"/>
<line x1="296.80" y1="45.82" x2="298.60" y2="45.82" stroke="#000" stroke-width="1.0"/>
<line x1="296.80" y1="35.91" x2="298.60" y2="35.91" stroke="#000" stroke-width="1.0"/>
<line x1="295.20" y1="26.00" x2="298.60" y2="26.00" stroke="#000" stroke-width="1.1"/>
<text x="291.20" y="29.00" font-size="8.3" text-anchor="end" fill="#1a1a1a" stroke="#1a1a1a" stroke-width="0.42" >100</text>
<line x1="311.30" y1="224.20" x2="311.30" y2="227.60" stroke="#000" stroke-width="1.1"/>
<line x1="314.72" y1="224.20" x2="314.72" y2="226.20" stroke="#000" stroke-width="0.9"/>
<line x1="318.14" y1="224.20" x2="318.14" y2="226.20" stroke="#000" stroke-width="0.9"/>
<line x1="321.56" y1="224.20" x2="321.56" y2="226.20" stroke="#000" stroke-width="0.9"/>
<line x1="324.98" y1="224.20" x2="324.98" y2="226.20" stroke="#000" stroke-width="0.9"/>
<line x1="328.40" y1="224.20" x2="328.40" y2="226.20" stroke="#000" stroke-width="0.9"/>
<line x1="331.82" y1="224.20" x2="331.82" y2="226.20" stroke="#000" stroke-width="0.9"/>
<line x1="335.24" y1="224.20" x2="335.24" y2="226.20" stroke="#000" stroke-width="0.9"/>
<line x1="338.66" y1="224.20" x2="338.66" y2="226.20" stroke="#000" stroke-width="0.9"/>
<line x1="342.08" y1="224.20" x2="342.08" y2="226.20" stroke="#000" stroke-width="0.9"/>
<line x1="345.50" y1="224.20" x2="345.50" y2="227.60" stroke="#000" stroke-width="1.1"/>
<line x1="349.09" y1="224.20" x2="349.09" y2="226.20" stroke="#000" stroke-width="0.9"/>
<line x1="352.68" y1="224.20" x2="352.68" y2="226.20" stroke="#000" stroke-width="0.9"/>
<line x1="356.27" y1="224.20" x2="356.27" y2="226.20" stroke="#000" stroke-width="0.9"/>
<line x1="359.86" y1="224.20" x2="359.86" y2="226.20" stroke="#000" stroke-width="0.9"/>
<line x1="363.45" y1="224.20" x2="363.45" y2="226.20" stroke="#000" stroke-width="0.9"/>
<line x1="367.04" y1="224.20" x2="367.04" y2="226.20" stroke="#000" stroke-width="0.9"/>
<line x1="370.63" y1="224.20" x2="370.63" y2="226.20" stroke="#000" stroke-width="0.9"/>
<line x1="374.22" y1="224.20" x2="374.22" y2="226.20" stroke="#000" stroke-width="0.9"/>
<line x1="377.81" y1="224.20" x2="377.81" y2="226.20" stroke="#000" stroke-width="0.9"/>
<line x1="381.40" y1="224.20" x2="381.40" y2="227.60" stroke="#000" stroke-width="1.1"/>
<line x1="399.28" y1="224.20" x2="399.28" y2="226.20" stroke="#000" stroke-width="0.9"/>
<line x1="409.74" y1="224.20" x2="409.74" y2="226.20" stroke="#000" stroke-width="0.9"/>
<line x1="417.16" y1="224.20" x2="417.16" y2="226.20" stroke="#000" stroke-width="0.9"/>
<line x1="422.92" y1="224.20" x2="422.92" y2="226.20" stroke="#000" stroke-width="0.9"/>
<line x1="427.62" y1="224.20" x2="427.62" y2="226.20" stroke="#000" stroke-width="0.9"/>
<line x1="431.60" y1="224.20" x2="431.60" y2="226.20" stroke="#000" stroke-width="0.9"/>
<line x1="435.04" y1="224.20" x2="435.04" y2="226.20" stroke="#000" stroke-width="0.9"/>
<line x1="438.08" y1="224.20" x2="438.08" y2="226.20" stroke="#000" stroke-width="0.9"/>
<line x1="455.76" y1="224.20" x2="455.76" y2="226.20" stroke="#000" stroke-width="0.9"/>
<line x1="464.51" y1="224.20" x2="464.51" y2="226.20" stroke="#000" stroke-width="0.9"/>
<line x1="470.72" y1="224.20" x2="470.72" y2="226.20" stroke="#000" stroke-width="0.9"/>
<line x1="475.54" y1="224.20" x2="475.54" y2="226.20" stroke="#000" stroke-width="0.9"/>
<line x1="479.47" y1="224.20" x2="479.47" y2="226.20" stroke="#000" stroke-width="0.9"/>
<line x1="482.80" y1="224.20" x2="482.80" y2="226.20" stroke="#000" stroke-width="0.9"/>
<line x1="485.68" y1="224.20" x2="485.68" y2="226.20" stroke="#000" stroke-width="0.9"/>
<line x1="488.23" y1="224.20" x2="488.23" y2="226.20" stroke="#000" stroke-width="0.9"/>
<line x1="490.50" y1="224.20" x2="490.50" y2="227.60" stroke="#000" stroke-width="1.1"/>
<line x1="505.46" y1="224.20" x2="505.46" y2="226.20" stroke="#000" stroke-width="0.9"/>
<text x="311.50" y="241.00" font-size="8.3" text-anchor="middle" fill="#1a1a1a">-10<tspan font-size="5.8" dy="-3.9">3</tspan></text>
<text x="346.40" y="241.00" font-size="8.3" text-anchor="middle" fill="#1a1a1a" stroke="#1a1a1a" stroke-width="0.42" >0</text>
<text x="381.70" y="241.00" font-size="8.3" text-anchor="middle" fill="#1a1a1a">10<tspan font-size="5.8" dy="-3.9">3</tspan></text>
<text x="441.00" y="241.00" font-size="8.3" text-anchor="middle" fill="#1a1a1a">10<tspan font-size="5.8" dy="-3.9">4</tspan></text>
<text x="490.80" y="241.00" font-size="8.3" text-anchor="middle" fill="#1a1a1a">10<tspan font-size="5.8" dy="-3.9">5</tspan></text>
<text x="405.70" y="255.40" font-size="10.2" text-anchor="middle" fill="#1a1a1a" stroke="#1a1a1a" stroke-width="0.42" textLength="86.5" lengthAdjust="spacingAndGlyphs" >Fluorescent Intensity</text>
<text x="269.00" y="119.85" font-size="10.2" text-anchor="middle" fill="#1a1a1a" stroke="#1a1a1a" stroke-width="0.42" textLength="117.3" lengthAdjust="spacingAndGlyphs" transform="rotate(-90 269.00 119.85)" >Normalized cell number (%)</text>
<line x1="296.40" y1="275.30" x2="512.60" y2="275.30" stroke="#000" stroke-width="1.3"/>
<line x1="298.80" y1="275.30" x2="298.80" y2="483.30" stroke="#000" stroke-width="1.4"/>
<line x1="511.80" y1="275.30" x2="511.80" y2="483.30" stroke="#000" stroke-width="1.6"/>
<line x1="298.10" y1="482.50" x2="512.60" y2="482.50" stroke="#000" stroke-width="1.7"/>
<line x1="295.40" y1="482.40" x2="298.80" y2="482.40" stroke="#000" stroke-width="1.1"/>
<text x="291.40" y="485.40" font-size="8.3" text-anchor="end" fill="#1a1a1a" stroke="#1a1a1a" stroke-width="0.42" >0</text>
<line x1="297.00" y1="472.54" x2="298.80" y2="472.54" stroke="#000" stroke-width="1.0"/>
<line x1="297.00" y1="462.68" x2="298.80" y2="462.68" stroke="#000" stroke-width="1.0"/>
<line x1="297.00" y1="452.82" x2="298.80" y2="452.82" stroke="#000" stroke-width="1.0"/>
<line x1="295.40" y1="442.96" x2="298.80" y2="442.96" stroke="#000" stroke-width="1.1"/>
<text x="291.40" y="445.96" font-size="8.3" text-anchor="end" fill="#1a1a1a" stroke="#1a1a1a" stroke-width="0.42" >20</text>
<line x1="297.00" y1="433.10" x2="298.80" y2="433.10" stroke="#000" stroke-width="1.0"/>
<line x1="297.00" y1="423.24" x2="298.80" y2="423.24" stroke="#000" stroke-width="1.0"/>
<line x1="297.00" y1="413.38" x2="298.80" y2="413.38" stroke="#000" stroke-width="1.0"/>
<line x1="295.40" y1="403.52" x2="298.80" y2="403.52" stroke="#000" stroke-width="1.1"/>
<text x="291.40" y="406.52" font-size="8.3" text-anchor="end" fill="#1a1a1a" stroke="#1a1a1a" stroke-width="0.42" >40</text>
<line x1="297.00" y1="393.66" x2="298.80" y2="393.66" stroke="#000" stroke-width="1.0"/>
<line x1="297.00" y1="383.80" x2="298.80" y2="383.80" stroke="#000" stroke-width="1.0"/>
<line x1="297.00" y1="373.94" x2="298.80" y2="373.94" stroke="#000" stroke-width="1.0"/>
<line x1="295.40" y1="364.08" x2="298.80" y2="364.08" stroke="#000" stroke-width="1.1"/>
<text x="291.40" y="367.08" font-size="8.3" text-anchor="end" fill="#1a1a1a" stroke="#1a1a1a" stroke-width="0.42" >60</text>
<line x1="297.00" y1="354.22" x2="298.80" y2="354.22" stroke="#000" stroke-width="1.0"/>
<line x1="297.00" y1="344.36" x2="298.80" y2="344.36" stroke="#000" stroke-width="1.0"/>
<line x1="297.00" y1="334.50" x2="298.80" y2="334.50" stroke="#000" stroke-width="1.0"/>
<line x1="295.40" y1="324.64" x2="298.80" y2="324.64" stroke="#000" stroke-width="1.1"/>
<text x="291.40" y="327.64" font-size="8.3" text-anchor="end" fill="#1a1a1a" stroke="#1a1a1a" stroke-width="0.42" >80</text>
<line x1="297.00" y1="314.78" x2="298.80" y2="314.78" stroke="#000" stroke-width="1.0"/>
<line x1="297.00" y1="304.92" x2="298.80" y2="304.92" stroke="#000" stroke-width="1.0"/>
<line x1="297.00" y1="295.06" x2="298.80" y2="295.06" stroke="#000" stroke-width="1.0"/>
<line x1="295.40" y1="285.20" x2="298.80" y2="285.20" stroke="#000" stroke-width="1.1"/>
<text x="294.80" y="290.10" font-size="8.3" text-anchor="end" fill="#1a1a1a" stroke="#1a1a1a" stroke-width="0.42" >100</text>
<line x1="312.70" y1="482.40" x2="312.70" y2="485.80" stroke="#000" stroke-width="1.1"/>
<line x1="316.03" y1="482.40" x2="316.03" y2="484.40" stroke="#000" stroke-width="0.9"/>
<line x1="319.36" y1="482.40" x2="319.36" y2="484.40" stroke="#000" stroke-width="0.9"/>
<line x1="322.69" y1="482.40" x2="322.69" y2="484.40" stroke="#000" stroke-width="0.9"/>
<line x1="326.02" y1="482.40" x2="326.02" y2="484.40" stroke="#000" stroke-width="0.9"/>
<line x1="329.35" y1="482.40" x2="329.35" y2="484.40" stroke="#000" stroke-width="0.9"/>
<line x1="332.68" y1="482.40" x2="332.68" y2="484.40" stroke="#000" stroke-width="0.9"/>
<line x1="336.01" y1="482.40" x2="336.01" y2="484.40" stroke="#000" stroke-width="0.9"/>
<line x1="339.34" y1="482.40" x2="339.34" y2="484.40" stroke="#000" stroke-width="0.9"/>
<line x1="342.67" y1="482.40" x2="342.67" y2="484.40" stroke="#000" stroke-width="0.9"/>
<line x1="346.00" y1="482.40" x2="346.00" y2="485.80" stroke="#000" stroke-width="1.1"/>
<line x1="349.54" y1="482.40" x2="349.54" y2="484.40" stroke="#000" stroke-width="0.9"/>
<line x1="353.08" y1="482.40" x2="353.08" y2="484.40" stroke="#000" stroke-width="0.9"/>
<line x1="356.62" y1="482.40" x2="356.62" y2="484.40" stroke="#000" stroke-width="0.9"/>
<line x1="360.16" y1="482.40" x2="360.16" y2="484.40" stroke="#000" stroke-width="0.9"/>
<line x1="363.70" y1="482.40" x2="363.70" y2="484.40" stroke="#000" stroke-width="0.9"/>
<line x1="367.24" y1="482.40" x2="367.24" y2="484.40" stroke="#000" stroke-width="0.9"/>
<line x1="370.78" y1="482.40" x2="370.78" y2="484.40" stroke="#000" stroke-width="0.9"/>
<line x1="374.32" y1="482.40" x2="374.32" y2="484.40" stroke="#000" stroke-width="0.9"/>
<line x1="377.86" y1="482.40" x2="377.86" y2="484.40" stroke="#000" stroke-width="0.9"/>
<line x1="381.40" y1="482.40" x2="381.40" y2="485.80" stroke="#000" stroke-width="1.1"/>
<line x1="399.28" y1="482.40" x2="399.28" y2="484.40" stroke="#000" stroke-width="0.9"/>
<line x1="409.74" y1="482.40" x2="409.74" y2="484.40" stroke="#000" stroke-width="0.9"/>
<line x1="417.16" y1="482.40" x2="417.16" y2="484.40" stroke="#000" stroke-width="0.9"/>
<line x1="422.92" y1="482.40" x2="422.92" y2="484.40" stroke="#000" stroke-width="0.9"/>
<line x1="427.62" y1="482.40" x2="427.62" y2="484.40" stroke="#000" stroke-width="0.9"/>
<line x1="431.60" y1="482.40" x2="431.60" y2="484.40" stroke="#000" stroke-width="0.9"/>
<line x1="435.04" y1="482.40" x2="435.04" y2="484.40" stroke="#000" stroke-width="0.9"/>
<line x1="438.08" y1="482.40" x2="438.08" y2="484.40" stroke="#000" stroke-width="0.9"/>
<line x1="455.76" y1="482.40" x2="455.76" y2="484.40" stroke="#000" stroke-width="0.9"/>
<line x1="464.51" y1="482.40" x2="464.51" y2="484.40" stroke="#000" stroke-width="0.9"/>
<line x1="470.72" y1="482.40" x2="470.72" y2="484.40" stroke="#000" stroke-width="0.9"/>
<line x1="475.54" y1="482.40" x2="475.54" y2="484.40" stroke="#000" stroke-width="0.9"/>
<line x1="479.47" y1="482.40" x2="479.47" y2="484.40" stroke="#000" stroke-width="0.9"/>
<line x1="482.80" y1="482.40" x2="482.80" y2="484.40" stroke="#000" stroke-width="0.9"/>
<line x1="485.68" y1="482.40" x2="485.68" y2="484.40" stroke="#000" stroke-width="0.9"/>
<line x1="488.23" y1="482.40" x2="488.23" y2="484.40" stroke="#000" stroke-width="0.9"/>
<line x1="490.50" y1="482.40" x2="490.50" y2="485.80" stroke="#000" stroke-width="1.1"/>
<line x1="505.46" y1="482.40" x2="505.46" y2="484.40" stroke="#000" stroke-width="0.9"/>
<text x="312.90" y="499.20" font-size="8.3" text-anchor="middle" fill="#1a1a1a">-10<tspan font-size="5.8" dy="-3.9">3</tspan></text>
<text x="346.90" y="499.20" font-size="8.3" text-anchor="middle" fill="#1a1a1a" stroke="#1a1a1a" stroke-width="0.42" >0</text>
<text x="381.70" y="499.20" font-size="8.3" text-anchor="middle" fill="#1a1a1a">10<tspan font-size="5.8" dy="-3.9">3</tspan></text>
<text x="441.00" y="499.20" font-size="8.3" text-anchor="middle" fill="#1a1a1a">10<tspan font-size="5.8" dy="-3.9">4</tspan></text>
<text x="490.80" y="499.20" font-size="8.3" text-anchor="middle" fill="#1a1a1a">10<tspan font-size="5.8" dy="-3.9">5</tspan></text>
<text x="405.70" y="513.60" font-size="10.2" text-anchor="middle" fill="#1a1a1a" stroke="#1a1a1a" stroke-width="0.42" textLength="86.5" lengthAdjust="spacingAndGlyphs" >Fluorescent Intensity</text>
<text x="269.00" y="378.55" font-size="10.2" text-anchor="middle" fill="#1a1a1a" stroke="#1a1a1a" stroke-width="0.42" textLength="117.3" lengthAdjust="spacingAndGlyphs" transform="rotate(-90 269.00 378.55)" >Normalized cell number (%)</text>
<line x1="296.50" y1="533.00" x2="512.60" y2="533.00" stroke="#000" stroke-width="1.3"/>
<line x1="298.90" y1="533.00" x2="298.90" y2="742.30" stroke="#000" stroke-width="1.4"/>
<line x1="511.80" y1="533.00" x2="511.80" y2="742.30" stroke="#000" stroke-width="1.6"/>
<line x1="298.20" y1="741.50" x2="512.60" y2="741.50" stroke="#000" stroke-width="1.7"/>
<line x1="295.50" y1="741.40" x2="298.90" y2="741.40" stroke="#000" stroke-width="1.1"/>
<text x="291.50" y="744.40" font-size="8.3" text-anchor="end" fill="#1a1a1a" stroke="#1a1a1a" stroke-width="0.42" >0</text>
<line x1="297.10" y1="731.48" x2="298.90" y2="731.48" stroke="#000" stroke-width="1.0"/>
<line x1="297.10" y1="721.55" x2="298.90" y2="721.55" stroke="#000" stroke-width="1.0"/>
<line x1="297.10" y1="711.62" x2="298.90" y2="711.62" stroke="#000" stroke-width="1.0"/>
<line x1="295.50" y1="701.70" x2="298.90" y2="701.70" stroke="#000" stroke-width="1.1"/>
<text x="291.50" y="704.70" font-size="8.3" text-anchor="end" fill="#1a1a1a" stroke="#1a1a1a" stroke-width="0.42" >20</text>
<line x1="297.10" y1="691.77" x2="298.90" y2="691.77" stroke="#000" stroke-width="1.0"/>
<line x1="297.10" y1="681.85" x2="298.90" y2="681.85" stroke="#000" stroke-width="1.0"/>
<line x1="297.10" y1="671.92" x2="298.90" y2="671.92" stroke="#000" stroke-width="1.0"/>
<line x1="295.50" y1="662.00" x2="298.90" y2="662.00" stroke="#000" stroke-width="1.1"/>
<text x="291.50" y="665.00" font-size="8.3" text-anchor="end" fill="#1a1a1a" stroke="#1a1a1a" stroke-width="0.42" >40</text>
<line x1="297.10" y1="652.07" x2="298.90" y2="652.07" stroke="#000" stroke-width="1.0"/>
<line x1="297.10" y1="642.15" x2="298.90" y2="642.15" stroke="#000" stroke-width="1.0"/>
<line x1="297.10" y1="632.22" x2="298.90" y2="632.22" stroke="#000" stroke-width="1.0"/>
<line x1="295.50" y1="622.30" x2="298.90" y2="622.30" stroke="#000" stroke-width="1.1"/>
<text x="291.50" y="625.30" font-size="8.3" text-anchor="end" fill="#1a1a1a" stroke="#1a1a1a" stroke-width="0.42" >60</text>
<line x1="297.10" y1="612.38" x2="298.90" y2="612.38" stroke="#000" stroke-width="1.0"/>
<line x1="297.10" y1="602.45" x2="298.90" y2="602.45" stroke="#000" stroke-width="1.0"/>
<line x1="297.10" y1="592.52" x2="298.90" y2="592.52" stroke="#000" stroke-width="1.0"/>
<line x1="295.50" y1="582.60" x2="298.90" y2="582.60" stroke="#000" stroke-width="1.1"/>
<text x="291.50" y="585.60" font-size="8.3" text-anchor="end" fill="#1a1a1a" stroke="#1a1a1a" stroke-width="0.42" >80</text>
<line x1="297.10" y1="572.67" x2="298.90" y2="572.67" stroke="#000" stroke-width="1.0"/>
<line x1="297.10" y1="562.75" x2="298.90" y2="562.75" stroke="#000" stroke-width="1.0"/>
<line x1="297.10" y1="552.82" x2="298.90" y2="552.82" stroke="#000" stroke-width="1.0"/>
<line x1="295.50" y1="542.90" x2="298.90" y2="542.90" stroke="#000" stroke-width="1.1"/>
<text x="291.50" y="545.90" font-size="8.3" text-anchor="end" fill="#1a1a1a" stroke="#1a1a1a" stroke-width="0.42" >100</text>
<line x1="312.70" y1="741.40" x2="312.70" y2="744.80" stroke="#000" stroke-width="1.1"/>
<line x1="316.03" y1="741.40" x2="316.03" y2="743.40" stroke="#000" stroke-width="0.9"/>
<line x1="319.36" y1="741.40" x2="319.36" y2="743.40" stroke="#000" stroke-width="0.9"/>
<line x1="322.69" y1="741.40" x2="322.69" y2="743.40" stroke="#000" stroke-width="0.9"/>
<line x1="326.02" y1="741.40" x2="326.02" y2="743.40" stroke="#000" stroke-width="0.9"/>
<line x1="329.35" y1="741.40" x2="329.35" y2="743.40" stroke="#000" stroke-width="0.9"/>
<line x1="332.68" y1="741.40" x2="332.68" y2="743.40" stroke="#000" stroke-width="0.9"/>
<line x1="336.01" y1="741.40" x2="336.01" y2="743.40" stroke="#000" stroke-width="0.9"/>
<line x1="339.34" y1="741.40" x2="339.34" y2="743.40" stroke="#000" stroke-width="0.9"/>
<line x1="342.67" y1="741.40" x2="342.67" y2="743.40" stroke="#000" stroke-width="0.9"/>
<line x1="346.00" y1="741.40" x2="346.00" y2="744.80" stroke="#000" stroke-width="1.1"/>
<line x1="349.54" y1="741.40" x2="349.54" y2="743.40" stroke="#000" stroke-width="0.9"/>
<line x1="353.08" y1="741.40" x2="353.08" y2="743.40" stroke="#000" stroke-width="0.9"/>
<line x1="356.62" y1="741.40" x2="356.62" y2="743.40" stroke="#000" stroke-width="0.9"/>
<line x1="360.16" y1="741.40" x2="360.16" y2="743.40" stroke="#000" stroke-width="0.9"/>
<line x1="363.70" y1="741.40" x2="363.70" y2="743.40" stroke="#000" stroke-width="0.9"/>
<line x1="367.24" y1="741.40" x2="367.24" y2="743.40" stroke="#000" stroke-width="0.9"/>
<line x1="370.78" y1="741.40" x2="370.78" y2="743.40" stroke="#000" stroke-width="0.9"/>
<line x1="374.32" y1="741.40" x2="374.32" y2="743.40" stroke="#000" stroke-width="0.9"/>
<line x1="377.86" y1="741.40" x2="377.86" y2="743.40" stroke="#000" stroke-width="0.9"/>
<line x1="381.40" y1="741.40" x2="381.40" y2="744.80" stroke="#000" stroke-width="1.1"/>
<line x1="399.28" y1="741.40" x2="399.28" y2="743.40" stroke="#000" stroke-width="0.9"/>
<line x1="409.74" y1="741.40" x2="409.74" y2="743.40" stroke="#000" stroke-width="0.9"/>
<line x1="417.16" y1="741.40" x2="417.16" y2="743.40" stroke="#000" stroke-width="0.9"/>
<line x1="422.92" y1="741.40" x2="422.92" y2="743.40" stroke="#000" stroke-width="0.9"/>
<line x1="427.62" y1="741.40" x2="427.62" y2="743.40" stroke="#000" stroke-width="0.9"/>
<line x1="431.60" y1="741.40" x2="431.60" y2="743.40" stroke="#000" stroke-width="0.9"/>
<line x1="435.04" y1="741.40" x2="435.04" y2="743.40" stroke="#000" stroke-width="0.9"/>
<line x1="438.08" y1="741.40" x2="438.08" y2="743.40" stroke="#000" stroke-width="0.9"/>
<line x1="455.76" y1="741.40" x2="455.76" y2="743.40" stroke="#000" stroke-width="0.9"/>
<line x1="464.51" y1="741.40" x2="464.51" y2="743.40" stroke="#000" stroke-width="0.9"/>
<line x1="470.72" y1="741.40" x2="470.72" y2="743.40" stroke="#000" stroke-width="0.9"/>
<line x1="475.54" y1="741.40" x2="475.54" y2="743.40" stroke="#000" stroke-width="0.9"/>
<line x1="479.47" y1="741.40" x2="479.47" y2="743.40" stroke="#000" stroke-width="0.9"/>
<line x1="482.80" y1="741.40" x2="482.80" y2="743.40" stroke="#000" stroke-width="0.9"/>
<line x1="485.68" y1="741.40" x2="485.68" y2="743.40" stroke="#000" stroke-width="0.9"/>
<line x1="488.23" y1="741.40" x2="488.23" y2="743.40" stroke="#000" stroke-width="0.9"/>
<line x1="490.50" y1="741.40" x2="490.50" y2="744.80" stroke="#000" stroke-width="1.1"/>
<line x1="505.46" y1="741.40" x2="505.46" y2="743.40" stroke="#000" stroke-width="0.9"/>
<text x="312.90" y="758.20" font-size="8.3" text-anchor="middle" fill="#1a1a1a">-10<tspan font-size="5.8" dy="-3.9">3</tspan></text>
<text x="346.90" y="758.20" font-size="8.3" text-anchor="middle" fill="#1a1a1a" stroke="#1a1a1a" stroke-width="0.42" >0</text>
<text x="381.70" y="758.20" font-size="8.3" text-anchor="middle" fill="#1a1a1a">10<tspan font-size="5.8" dy="-3.9">3</tspan></text>
<text x="441.00" y="758.20" font-size="8.3" text-anchor="middle" fill="#1a1a1a">10<tspan font-size="5.8" dy="-3.9">4</tspan></text>
<text x="490.80" y="758.20" font-size="8.3" text-anchor="middle" fill="#1a1a1a">10<tspan font-size="5.8" dy="-3.9">5</tspan></text>
<text x="405.70" y="772.60" font-size="10.2" text-anchor="middle" fill="#1a1a1a" stroke="#1a1a1a" stroke-width="0.42" textLength="86.5" lengthAdjust="spacingAndGlyphs" >Fluorescent Intensity</text>
<text x="269.00" y="636.90" font-size="10.2" text-anchor="middle" fill="#1a1a1a" stroke="#1a1a1a" stroke-width="0.42" textLength="117.3" lengthAdjust="spacingAndGlyphs" transform="rotate(-90 269.00 636.90)" >Normalized cell number (%)</text>
<polyline points="342.5,224.3 344.4,218.8 346.2,210.0 347.5,198.0 349.3,185.0 351.0,165.0 352.8,140.0 353.2,120.0 354.5,93.0 356.5,75.0 358.3,62.0 358.8,57.3 359.6,50.4 360.8,40.4 362.5,32.3 364.2,40.4 365.6,48.1 367.3,53.5 368.8,55.8 370.4,55.8 371.8,57.0 372.5,62.0 373.3,72.0 374.0,79.0 375.8,86.0 377.8,89.0 379.8,90.6 381.5,91.0 383.8,95.0 385.5,97.5 387.5,101.0 390.0,104.4 392.2,107.5 394.0,109.0 396.3,111.9 398.1,118.8 400.4,122.3 403.3,124.6 405.6,129.2 407.3,136.2 409.6,141.9 411.9,146.5 414.2,151.2 416.5,154.5 419.0,158.1 421.0,163.5 423.7,168.8 426.4,176.9 428.5,183.6 430.5,189.0 433.8,190.4 436.5,195.8 439.2,201.1 441.9,209.2 443.9,217.3 445.9,222.7 447.0,224.3" fill="none" stroke="#ddbb85" stroke-width="1.6" stroke-linejoin="round" stroke-linecap="butt"/>
<polyline points="342.5,224.3 344.4,218.8 346.2,209.6 347.3,198.0 348.0,185.0 348.8,165.0 349.6,140.0 350.8,100.0 351.4,80.0 352.1,70.0 352.7,55.8 353.5,44.2 354.8,36.2 356.2,44.2 357.3,55.8 358.5,65.0 359.6,74.2 360.2,81.5 361.9,98.8 363.7,108.0 364.6,116.0 365.8,126.0 367.7,136.5 370.0,144.6 373.5,156.2 376.9,165.4 380.2,172.0 382.7,176.2 386.1,182.3 389.4,189.0 393.5,194.4 396.8,200.5 400.9,201.1 404.2,204.5 406.9,207.2 409.6,207.9 415.0,213.3 420.4,216.6 425.8,219.3 432.5,220.7 439.2,222.7 444.6,224.2" fill="none" stroke="#8e173f" stroke-width="1.5" stroke-linejoin="round" stroke-linecap="butt"/>
<polyline points="342.5,224.3 344.4,218.8 346.2,209.6 347.3,198.0 348.0,180.0 348.3,150.0 348.7,100.0 348.8,60.0 349.2,46.0 350.0,42.7 351.5,46.5 352.3,55.8 352.3,72.7 353.3,98.8 353.8,125.0 355.0,142.3 356.7,165.4 357.7,176.2 360.0,188.8 362.9,201.5 365.8,210.8 370.4,217.7 376.2,222.3 380.8,224.3" fill="none" stroke="#000" stroke-width="1.8" stroke-linejoin="round" stroke-linecap="butt" stroke-dasharray="2.6 2.0"/>
<polyline points="342.5,224.3 344.4,218.8 346.2,210.0 347.8,198.0 349.8,185.0 351.0,165.0 352.6,140.0 353.4,125.0 353.6,116.0 354.4,93.0 357.0,80.0 358.1,74.2 358.8,61.9 360.0,55.8 361.5,53.5 363.3,49.6 364.2,51.2 365.2,56.9 366.5,52.7 368.1,44.2 369.0,40.8 370.0,45.0 370.8,48.8 372.3,50.4 373.5,52.7 374.2,57.3 375.0,65.0 375.8,74.2 376.3,79.0 377.5,85.4 378.1,89.4 379.5,84.8 380.7,74.4 381.8,67.8 383.0,70.4 383.8,77.3 385.0,86.0 386.2,92.3 387.5,99.0 387.9,101.0 389.5,95.0 391.2,91.2 393.5,99.2 395.2,105.6 397.5,106.7 399.8,110.8 401.5,120.0 404.4,122.3 407.3,125.8 410.8,128.7 412.5,131.5 414.2,129.8 416.0,133.8 417.1,141.9 418.8,148.8 420.4,152.7 423.1,155.4 425.1,163.5 427.1,168.8 429.8,174.2 431.1,181.0 433.8,186.3 437.2,191.7 439.2,195.8 440.6,201.1 442.2,207.9 443.9,216.0 445.9,221.3 447.3,224.3" fill="none" stroke="#000" stroke-width="1.55" stroke-linejoin="round" stroke-linecap="butt"/>
<line x1="420.80" y1="47.30" x2="388.74" y2="67.26" stroke="#000" stroke-width="1.2"/>
<polygon points="384.50,69.90 387.58,65.39 389.91,69.12" fill="#000"/>
<line x1="421.90" y1="64.60" x2="386.61" y2="87.30" stroke="#000" stroke-width="1.2"/>
<polygon points="382.40,90.00 385.42,85.45 387.80,89.15" fill="#000"/>
<line x1="422.50" y1="136.20" x2="362.39" y2="165.51" stroke="#000" stroke-width="1.2"/>
<polygon points="357.90,167.70 361.43,163.53 363.36,167.49" fill="#000"/>
<line x1="429.20" y1="157.70" x2="390.07" y2="177.26" stroke="#000" stroke-width="1.2"/>
<polygon points="385.60,179.50 389.09,175.30 391.06,179.23" fill="#000"/>
<text x="426.10" y="47.80" font-size="8.3" text-anchor="start" fill="#1a1a1a" stroke="#1a1a1a" stroke-width="0.42" textLength="17.3" lengthAdjust="spacingAndGlyphs" >NHS</text>
<text x="428.80" y="64.20" font-size="8.3" text-anchor="start" fill="#1a1a1a" stroke="#1a1a1a" stroke-width="0.42" textLength="56.6" lengthAdjust="spacingAndGlyphs" >NHS + 1mM P1</text>
<text x="425.50" y="135.20" font-size="8.3" text-anchor="start" fill="#1a1a1a" stroke="#1a1a1a" stroke-width="0.42" textLength="14.5" lengthAdjust="spacingAndGlyphs" >HIS</text>
<text x="432.50" y="157.70" font-size="8.3" text-anchor="start" fill="#1a1a1a" stroke="#1a1a1a" stroke-width="0.42" textLength="67.3" lengthAdjust="spacingAndGlyphs" >NHS + 1mM P130</text>
<polyline points="345.2,482.3 346.4,480.7 348.5,474.8 349.8,466.4 350.6,453.7 351.5,436.9 351.9,420.0 352.4,400.0 353.1,380.0 353.6,366.0 354.6,350.0 356.0,335.0 356.8,322.0 357.3,305.0 357.6,296.0 358.3,290.5 359.6,295.0 360.6,301.0 361.0,312.0 361.3,320.0 362.7,335.0 364.5,347.0 366.0,358.0 366.9,366.0 367.5,375.0 368.2,381.5 370.0,385.4 371.5,391.5 373.0,400.8 374.6,407.0 376.2,410.0 377.7,417.7 379.2,425.4 380.2,429.2 381.8,432.1 384.4,436.3 386.0,440.6 388.0,448.0 389.7,451.2 391.8,454.3 393.9,458.0 396.0,460.2 398.2,461.7 400.8,464.9 402.9,467.0 405.0,469.2 406.7,472.3 408.8,476.6 411.0,480.3 413.2,482.3" fill="none" stroke="#ddbb85" stroke-width="1.6" stroke-linejoin="round" stroke-linecap="butt"/>
<polyline points="345.2,482.3 346.4,480.7 348.5,474.8 349.8,466.4 350.6,453.7 351.5,436.9 351.9,420.0 352.4,400.0 353.0,378.9 353.4,365.9 354.2,350.6 354.8,330.0 355.2,312.0 355.8,297.2 357.3,289.5 358.8,294.9 360.0,301.0 361.0,313.6 361.4,320.0 362.2,335.3 363.4,346.8 364.5,358.3 364.8,370.0 365.3,378.9 365.6,385.4 366.9,391.5 368.5,400.8 370.4,410.0 372.3,419.2 374.6,429.2 377.2,438.5 379.8,446.9 383.0,455.4 387.2,463.9 392.5,470.2 398.9,474.4 405.2,477.1 409.4,478.7 412.1,480.8 414.7,482.3" fill="none" stroke="#8e173f" stroke-width="1.5" stroke-linejoin="round" stroke-linecap="butt"/>
<polyline points="344.7,482.3 345.6,479.0 347.3,470.6 348.5,453.7 349.4,436.9 349.8,420.0 350.4,400.0 350.7,378.9 351.1,365.9 351.9,343.0 352.3,322.3 353.3,303.0 353.8,296.0 354.6,293.4 355.6,300.2 356.7,308.0 357.2,322.3 358.0,335.3 358.8,350.6 359.5,365.9 360.3,377.4 360.8,385.4 362.3,396.9 363.8,408.5 365.0,420.0 365.8,429.2 366.3,433.0 368.7,442.7 371.3,451.2 374.5,458.6 378.2,466.0 383.0,471.3 388.8,475.5 395.7,478.7 402.0,480.3 407.3,481.3 410.5,482.3" fill="none" stroke="#000" stroke-width="1.8" stroke-linejoin="round" stroke-linecap="butt" stroke-dasharray="2.6 2.0"/>
<polyline points="345.2,482.3 346.4,480.7 348.5,474.8 349.8,466.4 350.6,453.7 351.5,436.9 351.9,420.0 352.4,400.0 353.1,380.0 353.6,366.0 354.6,350.0 356.0,335.0 357.0,322.0 357.6,312.0 358.5,303.4 359.5,299.5 360.6,301.0 361.2,304.9 361.4,312.0 361.8,320.0 363.4,335.3 365.3,346.8 366.8,358.3 367.6,365.9 368.2,375.0 368.8,381.5 370.8,385.4 372.3,391.5 373.8,400.8 375.4,406.9 376.9,410.0 378.5,417.7 380.0,425.4 380.8,429.2 382.5,432.1 385.1,436.3 386.7,440.6 388.8,448.0 390.4,451.2 392.5,454.3 394.6,458.0 396.7,460.2 398.9,461.7 401.5,464.9 403.6,467.0 405.7,469.2 407.3,472.3 409.4,476.6 411.6,480.3 413.7,482.3" fill="none" stroke="#000" stroke-width="1.55" stroke-linejoin="round" stroke-linecap="butt"/>
<polyline points="349.2,741.5 353.1,735.4 355.0,723.8 356.6,698.8 358.3,670.0 359.3,653.8 360.5,633.6 361.5,615.0 363.5,600.0 364.5,592.0 365.2,582.0 366.0,570.0 367.3,563.1 369.6,553.8 372.5,548.7 374.3,556.0 374.8,563.1 376.5,568.0 378.5,575.0 379.8,585.0 381.4,600.0 382.8,613.5 384.8,626.9 386.8,640.4 388.8,656.5 391.5,670.0 393.5,681.5 396.3,698.8 399.2,714.2 403.1,727.7 406.9,737.3 410.8,741.3" fill="none" stroke="#ddbb85" stroke-width="1.6" stroke-linejoin="round" stroke-linecap="butt"/>
<polyline points="347.2,742.0 349.1,733.5 350.1,708.5 350.4,679.4 351.0,640.4 351.6,619.8 352.3,590.6 352.9,563.1 353.7,552.0 354.4,546.9 355.7,552.0 356.6,558.5 357.7,583.0 358.4,600.0 359.5,619.8 360.0,630.0 361.1,653.8 362.0,670.0 363.1,679.4 363.9,689.2 367.4,706.5 370.3,720.0 374.1,731.5 378.9,739.2 383.7,741.5" fill="none" stroke="#8e173f" stroke-width="1.5" stroke-linejoin="round" stroke-linecap="butt"/>
<polyline points="345.4,742.0 347.3,733.5 348.3,708.5 349.2,679.4 349.8,640.4 350.4,619.8 351.1,590.6 351.7,563.1 352.5,552.0 353.2,546.9 354.5,552.0 355.4,558.5 356.5,583.0 357.2,600.0 358.3,619.8 358.8,630.0 359.9,653.8 360.8,670.0 361.9,679.4 362.7,689.2 365.6,706.5 368.5,720.0 372.3,731.5 377.1,739.2 381.9,741.5" fill="none" stroke="#000" stroke-width="1.8" stroke-linejoin="round" stroke-linecap="butt" stroke-dasharray="2.6 2.0"/>
<polyline points="349.2,741.5 353.1,735.4 355.0,723.8 356.9,698.8 358.8,670.0 359.9,653.8 361.2,633.6 361.9,619.8 362.6,612.1 363.4,606.0 364.6,602.1 365.3,594.5 366.1,586.8 367.2,575.3 368.2,566.0 368.6,560.0 369.0,556.7 370.3,562.0 371.8,568.8 373.0,566.5 374.5,565.7 376.8,567.7 379.2,573.5 380.6,583.8 381.2,590.8 382.9,594.2 384.0,597.7 384.8,602.0 386.1,613.5 386.8,622.9 388.2,633.6 389.5,647.1 391.5,660.6 393.5,667.3 394.6,672.0 396.3,677.7 398.3,689.2 401.2,702.7 404.0,714.2 406.9,725.8 409.8,735.4 412.7,741.3" fill="none" stroke="#000" stroke-width="1.55" stroke-linejoin="round" stroke-linecap="butt"/>
<text x="391.70" y="332.90" font-size="8.3" text-anchor="start" fill="#1a1a1a" stroke="#1a1a1a" stroke-width="0.42" textLength="59.7" lengthAdjust="spacingAndGlyphs" >MBL Def. serum</text>
<text x="396.90" y="352.30" font-size="8.3" text-anchor="start" fill="#1a1a1a" stroke="#1a1a1a" stroke-width="0.42" textLength="99.1" lengthAdjust="spacingAndGlyphs" >MBL Def. serum + 1mM P1</text>
<text x="391.70" y="397.00" font-size="8.3" text-anchor="start" fill="#1a1a1a" stroke="#1a1a1a" stroke-width="0.42" textLength="13.8" lengthAdjust="spacingAndGlyphs" >HIS</text>
<text x="404.00" y="410.80" font-size="8.3" text-anchor="start" fill="#1a1a1a" stroke="#1a1a1a" stroke-width="0.42" textLength="60.0" lengthAdjust="spacingAndGlyphs" >MBL Def. serum</text>
<text x="404.00" y="422.50" font-size="8.3" text-anchor="start" fill="#1a1a1a" stroke="#1a1a1a" stroke-width="0.42" textLength="48.3" lengthAdjust="spacingAndGlyphs" >+ 1mM P130</text>
<line x1="390.80" y1="336.90" x2="371.01" y2="356.94" stroke="#000" stroke-width="1.2"/>
<polygon points="367.50,360.50 369.45,355.40 372.58,358.49" fill="#000"/>
<line x1="393.80" y1="352.30" x2="374.69" y2="375.35" stroke="#000" stroke-width="1.2"/>
<polygon points="371.50,379.20 373.00,373.95 376.38,376.75" fill="#000"/>
<line x1="389.20" y1="396.90" x2="369.77" y2="419.32" stroke="#000" stroke-width="1.2"/>
<polygon points="366.50,423.10 368.11,417.88 371.44,420.76" fill="#000"/>
<line x1="401.50" y1="410.80" x2="382.16" y2="432.10" stroke="#000" stroke-width="1.2"/>
<polygon points="378.80,435.80 380.53,430.62 383.79,433.58" fill="#000"/>
<text x="425.50" y="593.50" font-size="8.3" text-anchor="start" fill="#1a1a1a" stroke="#1a1a1a" stroke-width="0.42" textLength="62.2" lengthAdjust="spacingAndGlyphs" >C1q Depl. serum</text>
<text x="418.50" y="612.00" font-size="8.3" text-anchor="start" fill="#1a1a1a" stroke="#1a1a1a" stroke-width="0.42" textLength="61.5" lengthAdjust="spacingAndGlyphs" >C1q Depl. serum</text>
<text x="418.50" y="621.40" font-size="8.3" text-anchor="start" fill="#1a1a1a" stroke="#1a1a1a" stroke-width="0.42" textLength="35.3" lengthAdjust="spacingAndGlyphs" >+ 1mM P1</text>
<text x="403.00" y="687.50" font-size="8.3" text-anchor="start" fill="#1a1a1a" stroke="#1a1a1a" stroke-width="0.42" textLength="14.5" lengthAdjust="spacingAndGlyphs" >HIS</text>
<text x="416.00" y="699.50" font-size="8.3" text-anchor="start" fill="#1a1a1a" stroke="#1a1a1a" stroke-width="0.42" textLength="62.5" lengthAdjust="spacingAndGlyphs" >C1q Depl. serum</text>
<text x="416.00" y="708.50" font-size="8.3" text-anchor="start" fill="#1a1a1a" stroke="#1a1a1a" stroke-width="0.42" textLength="47.0" lengthAdjust="spacingAndGlyphs" >+ 1mM P130</text>
<line x1="423.00" y1="593.00" x2="391.08" y2="612.22" stroke="#000" stroke-width="1.2"/>
<polygon points="386.80,614.80 389.95,610.34 392.22,614.11" fill="#000"/>
<line x1="417.00" y1="615.50" x2="391.84" y2="629.83" stroke="#000" stroke-width="1.2"/>
<polygon points="387.50,632.30 390.76,627.91 392.93,631.74" fill="#000"/>
<line x1="401.50" y1="686.30" x2="369.72" y2="704.88" stroke="#000" stroke-width="1.2"/>
<polygon points="365.40,707.40 368.61,702.98 370.83,706.78" fill="#000"/>
<line x1="410.80" y1="699.20" x2="375.60" y2="721.89" stroke="#000" stroke-width="1.2"/>
<polygon points="371.40,724.60 374.41,720.04 376.79,723.74" fill="#000"/>
</svg>
</body></html>
